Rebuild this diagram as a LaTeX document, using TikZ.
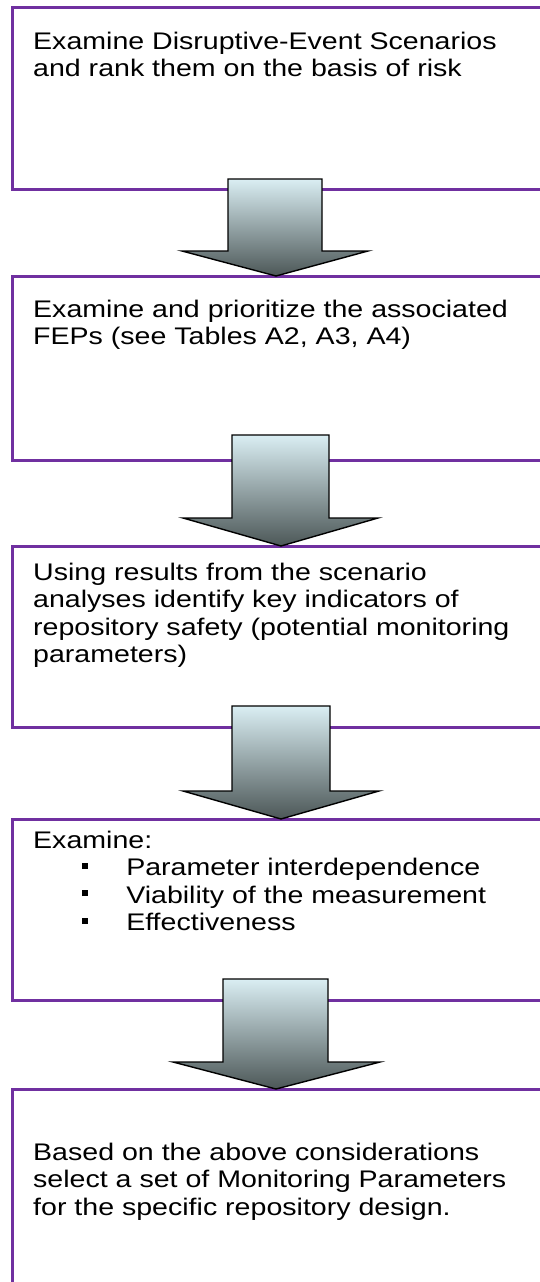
\documentclass[tikz,border=0pt]{standalone}
\usepackage{fontspec}
\setmainfont{Liberation Sans}
\definecolor{boxpurple}{HTML}{7030A0}
\definecolor{arrtop}{HTML}{DAEEF3}
\definecolor{arrbot}{HTML}{4C5757}
\newcommand{\blockarrow}[8]{%
  % #1 shaft left, #2 shaft right, #3 top, #4 wing left, #5 wing right, #6 wing y, #7 tip x, #8 box below
  \shadedraw[arrowstyle] (#1,#3) -- (#2,#3) -- (#2,#6) -- (#5,#6) -- (#7,0 |- #8.north) -- (#4,#6) -- (#1,#6) -- cycle;}
\newcommand{\widetext}[1]{\scalebox{1.19}[1]{\begin{tabular}[t]{@{}l@{}}#1\end{tabular}}}
\newcommand{\sqbullet}{\hspace*{41.2pt}\rule[7pt]{5pt}{6pt}\hspace*{32pt}}
\begin{document}
\begin{tikzpicture}[x=1pt,y=-1pt,
  stagebox/.style={draw=boxpurple, line width=3pt, minimum width=560pt, outer sep=0pt, inner sep=0pt, anchor=north west},
  stagetext/.style={anchor=base west, inner sep=0pt, font=\fontsize{24}{27.6}\selectfont},
  arrowstyle/.style={draw=black, line width=1.4pt, line join=miter, top color=arrtop, bottom color=arrbot}]
\useasboundingbox (0,0) rectangle (540,1282);
\clip (0,0) rectangle (540,1282);
\fill[white] (0,0) rectangle (540,1282);
% boxes
\node[stagebox, minimum height=182pt] (b1) at (12.5,7) {};
\node[stagebox, minimum height=184pt] (b2) at (12.5,276) {};
\node[stagebox, minimum height=181pt] (b3) at (12.5,546) {};
\node[stagebox, minimum height=181pt] (b4) at (12.5,819) {};
\node[stagebox, minimum height=240pt] (b5) at (12.5,1089) {};
% texts
\node[stagetext] (t1) at (33,49) {\widetext{Examine Disruptive-Event Scenarios\\and rank them on the basis of risk}};
\node[stagetext] (t2) at (33,317) {\widetext{Examine and prioritize the associated\\FEPs (see Tables A2, A3, A4)}};
\node[stagetext] (t3) at (33,580) {\widetext{Using results from the scenario\\analyses identify key indicators of\\repository safety (potential monitoring\\parameters)}};
\node[stagetext] (t4) at (33,848) {\widetext{Examine:\\\sqbullet Parameter interdependence\\\sqbullet Viability of the measurement\\\sqbullet Effectiveness}};
\node[stagetext] (t5) at (33,1160) {\widetext{Based on the above considerations\\select a set of Monitoring Parameters\\for the specific repository design.}};
% arrows
\blockarrow{228}{322}{179}{182}{368}{251}{276}{b2}
\blockarrow{232}{329}{435}{183}{378}{518}{281}{b3}
\blockarrow{232}{330}{706}{183}{379}{791}{281}{b4}
\blockarrow{223}{328}{979}{173}{380}{1062}{276}{b5}
\end{tikzpicture}
\end{document}
